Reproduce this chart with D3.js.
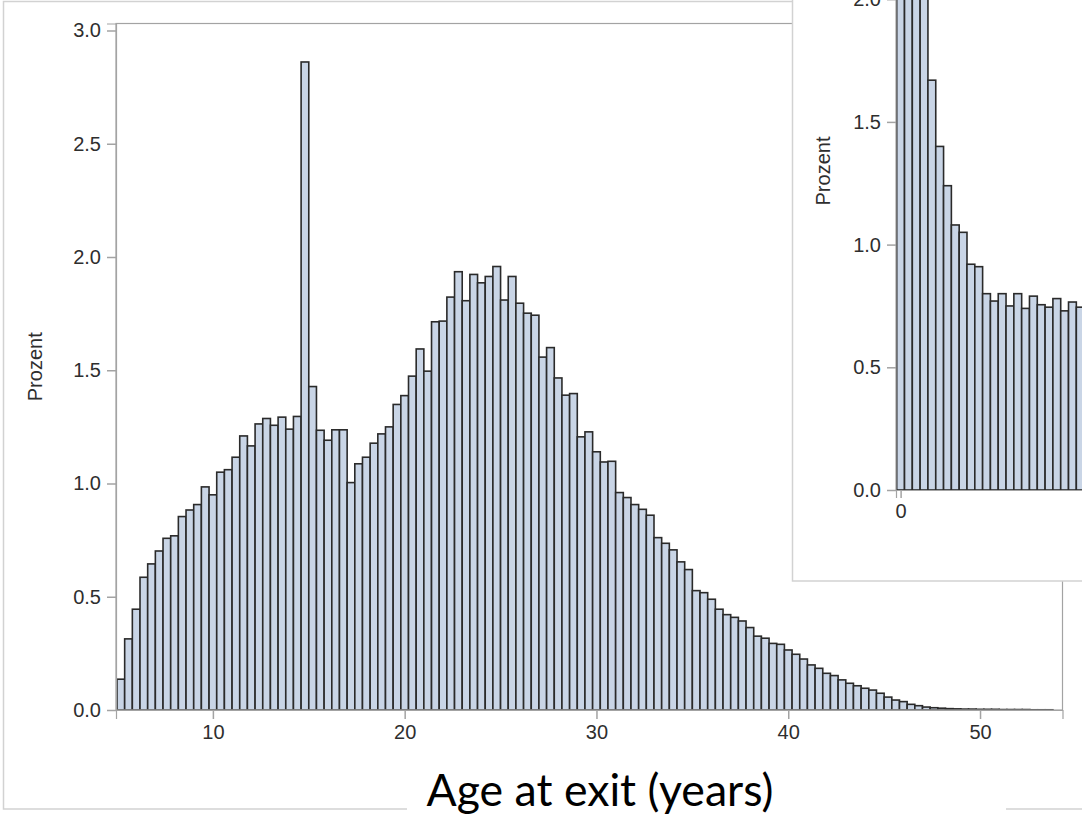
<!DOCTYPE html>
<html>
<head>
<meta charset="utf-8">
<script src="https://cdn.jsdelivr.net/npm/d3@7"></script>
<style>
  html, body { margin: 0; padding: 0; background: #ffffff; }
  svg { display: block; }
</style>
</head>
<body>
<svg id="chart" width="1082" height="822"></svg>
<script>
// ---------------- DATA ----------------
// Main histogram: age at exit (years), bins of 0.4 years starting at 5.0
const mainBinStart = 5.0;
const mainBinWidth = 0.4;
const mainPercent = [
  0.136, 0.314, 0.445, 0.586, 0.645, 0.702, 0.758, 0.769, 0.854, 0.883,
  0.907, 0.985, 0.950, 1.050, 1.061, 1.116, 1.210, 1.166, 1.263, 1.287,
  1.257, 1.293, 1.240, 1.296, 2.861, 1.428, 1.235, 1.191, 1.237, 1.237,
  1.004, 1.087, 1.116, 1.178, 1.219, 1.250, 1.349, 1.388, 1.474, 1.594,
  1.496, 1.714, 1.717, 1.823, 1.935, 1.807, 1.923, 1.886, 1.914, 1.958,
  1.810, 1.914, 1.796, 1.752, 1.743, 1.558, 1.600, 1.466, 1.390, 1.397,
  1.206, 1.228, 1.140, 1.095, 1.098, 0.960, 0.938, 0.907, 0.886, 0.860,
  0.761, 0.736, 0.707, 0.654, 0.620, 0.527, 0.518, 0.489, 0.445, 0.421,
  0.409, 0.393, 0.364, 0.326, 0.317, 0.294, 0.290, 0.265, 0.246, 0.225,
  0.199, 0.184, 0.162, 0.152, 0.133, 0.118, 0.107, 0.096, 0.088, 0.074,
  0.057, 0.044, 0.037, 0.025, 0.019, 0.013, 0.010, 0.008, 0.006, 0.005,
  0.004, 0.004, 0.003, 0.003, 0.003, 0.002, 0.002, 0.002, 0.002, 0.001,
  0.001, 0.001
];
const mainXTicks = [10, 20, 30, 40, 50];
const mainYTicks = [0, 0.5, 1.0, 1.5, 2.0, 2.5, 3.0];
const mainYLabel = "Prozent";
const titleText = "Age at exit (years)";

// Inset histogram (cropped): bins of width 1 centred on integers starting at 0
const insetPercent = [
  4.2, 3.0, 2.4, 2.01, 1.67, 1.40, 1.24, 1.08, 1.05, 0.92,
  0.91, 0.80, 0.77, 0.80, 0.75, 0.80, 0.74, 0.79, 0.755, 0.745,
  0.78, 0.73, 0.766, 0.745, 0.76
];
const insetXTicks = [0];
const insetYTicks = [0, 0.5, 1.0, 1.5, 2.0];
const insetYLabel = "Prozent";

// ---------------- DRAW ----------------
const svg = d3.select("#chart");
const W = 1082, H = 822;
const fmt = d3.format(".1f");
const tickFont = "'Liberation Sans', Arial, sans-serif";
const barFill = "#c9d5e6";
const barStroke = "#2a2a2a";
const axisColor = "#a3a3a3";
const borderColor = "#d2d2d2";
const textColor = "#2e2e2e";

svg.append("rect").attr("width", W).attr("height", H).attr("fill", "#fff");

// Outer frame of the main picture
svg.append("rect")
  .attr("x", 3.5).attr("y", 1.5)
  .attr("width", 1100).attr("height", 807.5)
  .attr("fill", "none").attr("stroke", borderColor).attr("stroke-width", 1.5);

// Main plot
const m = { left: 116, right: 1062.5, top: 23.5, bottom: 710 };
const x = d3.scaleLinear().domain([4.948, 54.3]).range([m.left, m.right]);
const y = d3.scaleLinear().domain([0, 3.0309]).range([m.bottom, m.top]);

const mainBins = mainPercent.map((v, i) => ({
  x0: mainBinStart + i * mainBinWidth,
  x1: mainBinStart + (i + 1) * mainBinWidth,
  v
}));

svg.append("g").selectAll("rect").data(mainBins).join("rect")
  .attr("x", d => x(d.x0))
  .attr("y", d => y(d.v))
  .attr("width", d => x(d.x1) - x(d.x0))
  .attr("height", d => y(0) - y(d.v))
  .attr("fill", barFill)
  .attr("stroke", barStroke)
  .attr("stroke-width", 1.6);

// frame
svg.append("rect")
  .attr("x", m.left).attr("y", m.top)
  .attr("width", m.right - m.left).attr("height", m.bottom - m.top)
  .attr("fill", "none").attr("stroke", axisColor).attr("stroke-width", 1.2);

// y axis
const yAxis = d3.axisLeft(y).tickValues(mainYTicks).tickFormat(fmt).tickSize(9).tickPadding(6);
const gy = svg.append("g").attr("transform", `translate(${m.left},0)`).call(yAxis);
gy.select(".domain").attr("stroke", axisColor).attr("stroke-width", 1.2);
gy.selectAll(".tick line").attr("stroke", axisColor).attr("stroke-width", 1.5);
gy.selectAll(".tick text").attr("fill", textColor)
  .style("font-family", tickFont).style("font-size", "20px");

// x axis
const xAxis = d3.axisBottom(x).tickValues(mainXTicks).tickFormat(d3.format("d")).tickSize(9).tickPadding(6);
const gx = svg.append("g").attr("transform", `translate(0,${m.bottom})`).call(xAxis);
gx.select(".domain").attr("stroke", axisColor).attr("stroke-width", 1.2);
gx.selectAll(".tick line").attr("stroke", axisColor).attr("stroke-width", 1.5);
gx.selectAll(".tick text").attr("fill", textColor)
  .style("font-family", tickFont).style("font-size", "20px");

// y label
svg.append("text")
  .attr("transform", `translate(42,${(m.top + m.bottom) / 2}) rotate(-90)`)
  .attr("text-anchor", "middle")
  .attr("fill", textColor)
  .style("font-family", tickFont).style("font-size", "20px")
  .text(mainYLabel);

// ---------------- INSET ----------------
const inset = svg.append("g");
inset.append("rect")
  .attr("x", 792.5).attr("y", -10).attr("width", 400).attr("height", 591)
  .attr("fill", "#fff").attr("stroke", borderColor).attr("stroke-width", 1.5);

const im = { left: 896, right: 1090, top: -40, bottom: 490 };
const xi = d3.scaleLinear().domain([-0.59, 24.25]).range([im.left, im.right]);
const yi = d3.scaleLinear().domain([0, 2.0]).range([im.bottom, -0.8]);

inset.append("clipPath").attr("id", "insetClip")
  .append("rect").attr("x", im.left).attr("y", im.top)
  .attr("width", im.right - im.left).attr("height", im.bottom - im.top + 1);

inset.append("g").attr("clip-path", "url(#insetClip)")
  .selectAll("rect").data(insetPercent).join("rect")
  .attr("x", (d, i) => xi(i - 0.5))
  .attr("y", d => yi(d))
  .attr("width", (d, i) => xi(i + 0.5) - xi(i - 0.5))
  .attr("height", d => yi(0) - yi(d))
  .attr("fill", barFill)
  .attr("stroke", barStroke)
  .attr("stroke-width", 1.6);

const yAxisI = d3.axisLeft(yi).tickValues(insetYTicks).tickFormat(fmt).tickSize(9).tickPadding(6);
const gyi = inset.append("g").attr("transform", `translate(${im.left},0)`).call(yAxisI);
gyi.select(".domain").attr("d", `M0,${im.top}V${im.bottom}`).attr("stroke", axisColor).attr("stroke-width", 1.2);
gyi.selectAll(".tick line").attr("stroke", axisColor).attr("stroke-width", 1.5);
gyi.selectAll(".tick text").attr("fill", textColor)
  .style("font-family", tickFont).style("font-size", "20px");

const xAxisI = d3.axisBottom(xi).tickValues(insetXTicks).tickFormat(d3.format("d")).tickSize(8).tickPadding(6);
const gxi = inset.append("g").attr("transform", `translate(0,${im.bottom})`).call(xAxisI);
gxi.select(".domain").attr("stroke", axisColor).attr("stroke-width", 1.2);
gxi.selectAll(".tick line").attr("stroke", axisColor).attr("stroke-width", 1.5);
gxi.selectAll(".tick text").attr("fill", textColor)
  .style("font-family", tickFont).style("font-size", "20px");

inset.append("text")
  .attr("transform", `translate(830,171) rotate(-90)`)
  .attr("text-anchor", "middle")
  .attr("fill", textColor)
  .style("font-family", tickFont).style("font-size", "20px")
  .text(insetYLabel);

// ---------------- TITLE ----------------
svg.append("rect")
  .attr("x", 407).attr("y", 770).attr("width", 599).attr("height", 60)
  .attr("fill", "#fff");
const title = svg.append("text")
  .attr("x", 600).attr("y", 806)
  .attr("text-anchor", "middle")
  .attr("fill", "#000")
  .style("font-family", "Lato, 'Open Sans', sans-serif")
  .style("font-size", "38px")
  .text(titleText);
const tl = title.node().getComputedTextLength();
if (tl > 0) title.style("font-size", (38 * 347 / tl).toFixed(2) + "px");
</script>
</body>
</html>
